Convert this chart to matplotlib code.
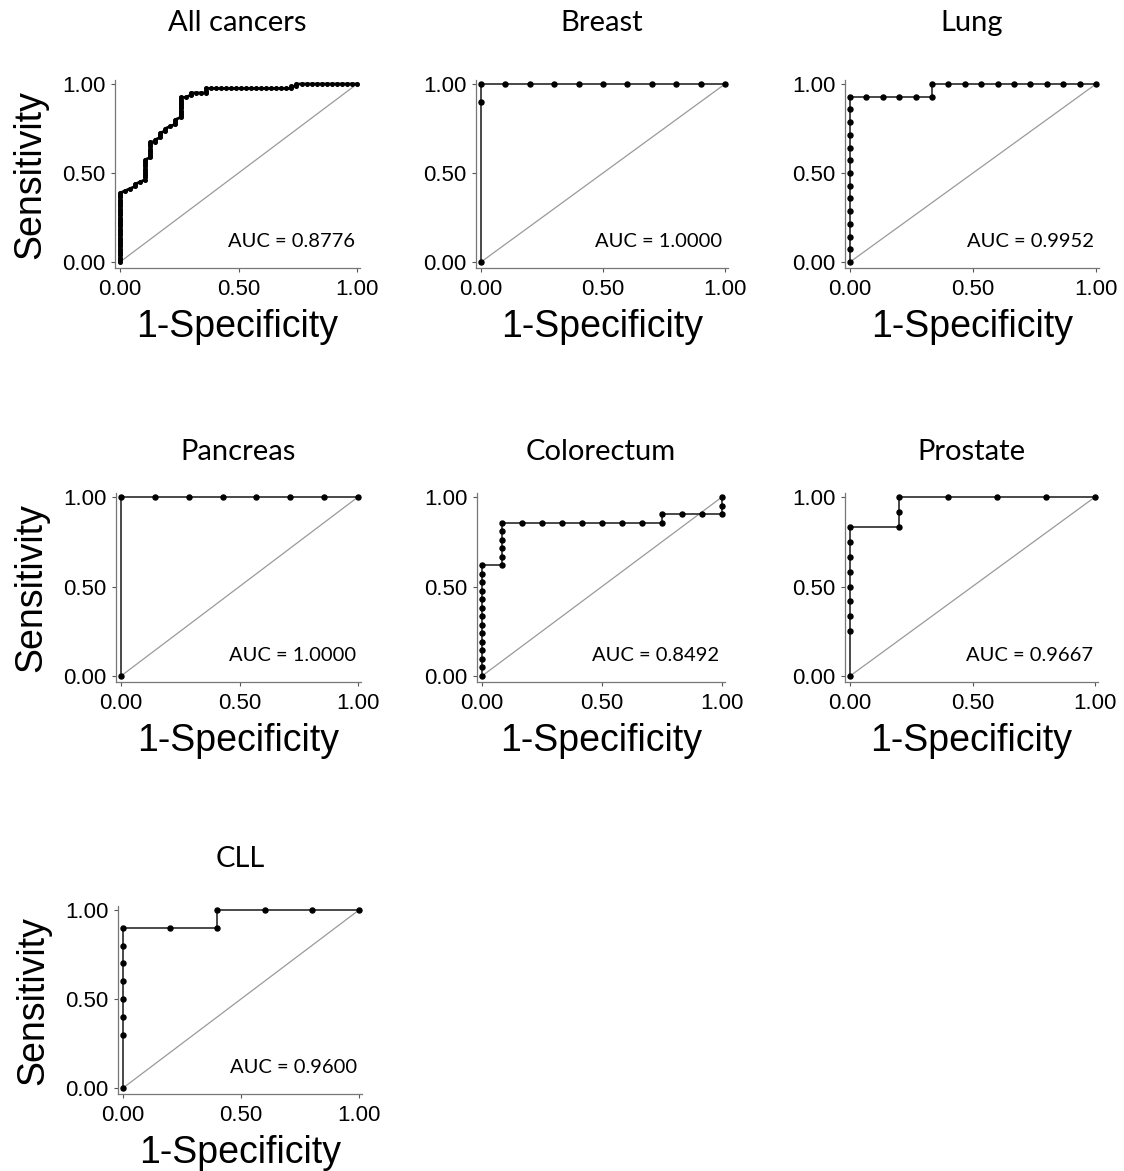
import matplotlib
matplotlib.use('Agg')
import matplotlib.pyplot as plt

ARIAL = ["Liberation Sans", "DejaVu Sans"]
CALIBRI = ["Lato", "DejaVu Sans"]
plt.rcParams['font.family'] = ARIAL

# ---------------- data ----------------
titles = ["All cancers", "Breast", "Lung", "Pancreas", "Colorectum", "Prostate", "CLL"]
auc_labels = ["AUC = 0.8776", "AUC = 1.0000", "AUC = 0.9952", "AUC = 1.0000",
              "AUC = 0.8492", "AUC = 0.9667", "AUC = 0.9600"]

# ROC points as (false-positive count, true-positive count) with totals
all_n_neg, all_n_pos = 47, 80
all_fp = [0, 0, 0, 0, 0, 0, 0, 0, 0, 0, 0, 0, 0, 0, 0, 0,
          0, 0, 0, 0, 0, 0, 0, 0, 0, 0, 0, 0, 0, 0, 0, 0,
          1, 2, 3, 3, 4, 5, 5, 5, 5, 5, 5, 5, 5, 5, 5,
          6, 6, 6, 6, 6, 6, 6, 6, 7, 7, 8, 8, 8, 9, 9, 10, 11, 11, 11,
          12, 12, 12, 12, 12, 12, 12, 12, 12, 12, 13, 14, 14, 15, 16,
          17, 17, 17, 18, 19, 20, 21, 22, 23, 24, 25, 26, 27, 28, 29, 30, 31, 32, 33,
          34, 34, 35, 35, 36, 37, 38, 39, 40, 41, 42, 43, 44, 45, 46, 47]
all_tp = [0, 1, 2, 3, 4, 5, 6, 7, 8, 9, 10, 11, 12, 13, 14, 15,
          16, 17, 18, 19, 20, 21, 22, 23, 24, 25, 26, 27, 28, 29, 30, 31,
          32, 33, 34, 35, 36, 37, 38, 39, 40, 41, 42, 43, 44, 45, 46,
          47, 48, 49, 50, 51, 52, 53, 54, 54, 55, 56, 57, 58, 59, 60, 61, 62, 63, 64,
          65, 66, 67, 68, 69, 70, 71, 72, 73, 74, 74, 75, 76, 76, 76,
          76, 77, 78, 78, 78, 78, 78, 78, 78, 78, 78, 78, 78, 78, 78, 78, 78, 78, 78,
          78, 79, 79, 80, 80, 80, 80, 80, 80, 80, 80, 80, 80, 80, 80, 80]

breast_n_neg, breast_n_pos = 10, 10
breast_fp = [0, 0, 0, 1, 2, 3, 4, 5, 6, 7, 8, 9, 10]
breast_tp = [0, 9, 10, 10, 10, 10, 10, 10, 10, 10, 10, 10, 10]

lung_n_neg, lung_n_pos = 15, 14
lung_fp = [0, 0, 0, 0, 0, 0, 0, 0, 0, 0, 0, 0, 0, 0,
           1, 2, 3, 4, 5, 5, 6, 7, 8, 9, 10, 11, 12, 13, 14, 15]
lung_tp = [0, 1, 2, 3, 4, 5, 6, 7, 8, 9, 10, 11, 12, 13,
           13, 13, 13, 13, 13, 14, 14, 14, 14, 14, 14, 14, 14, 14, 14, 14]

pancreas_n_neg, pancreas_n_pos = 7, 1
pancreas_fp = [0, 0, 1, 2, 3, 4, 5, 6, 7]
pancreas_tp = [0, 1, 1, 1, 1, 1, 1, 1, 1]

colo_n_neg, colo_n_pos = 12, 21
colo_fp = [0, 0, 0, 0, 0, 0, 0, 0, 0, 0, 0, 0, 0, 0,
           1, 1, 1, 1, 1, 1,
           2, 3, 4, 5, 6, 7, 8, 9,
           9, 10, 11, 12, 12, 12]
colo_tp = [0, 1, 2, 3, 4, 5, 6, 7, 8, 9, 10, 11, 12, 13,
           13, 14, 15, 16, 17, 18,
           18, 18, 18, 18, 18, 18, 18, 18,
           19, 19, 19, 19, 20, 21]

prost_n_neg, prost_n_pos = 5, 12
prost_fp = [0, 0, 0, 0, 0, 0, 0, 0, 0, 1, 1, 1, 2, 3, 4, 5]
prost_tp = [0, 3, 4, 5, 6, 7, 8, 9, 10, 10, 11, 12, 12, 12, 12, 12]

cll_n_neg, cll_n_pos = 5, 10
cll_fp = [0, 0, 0, 0, 0, 0, 0, 0, 1, 2, 2, 3, 4, 5]
cll_tp = [0, 3, 4, 5, 6, 7, 8, 9, 9, 9, 10, 10, 10, 10]

curves = [
    (all_fp, all_tp, all_n_neg, all_n_pos),
    (breast_fp, breast_tp, breast_n_neg, breast_n_pos),
    (lung_fp, lung_tp, lung_n_neg, lung_n_pos),
    (pancreas_fp, pancreas_tp, pancreas_n_neg, pancreas_n_pos),
    (colo_fp, colo_tp, colo_n_neg, colo_n_pos),
    (prost_fp, prost_tp, prost_n_neg, prost_n_pos),
    (cll_fp, cll_tp, cll_n_neg, cll_n_pos),
]

tick_vals = [0.0, 0.5, 1.0]
tick_labels = ["0.00", "0.50", "1.00"]

# ---------------- layout ----------------
W, H = 1124, 1171
fig = plt.figure(figsize=(W / 100, H / 100), dpi=100)

XMIN, XMAX = -0.022, 1.012
YMIN, YMAX = -0.035, 1.02

# pixel positions of data x=0 / x=1 and y=1 / y=0 for each panel
panel_px = [
    (120, 357, 84, 262),
    (481, 725, 84, 262),
    (850, 1096, 84, 262),
    (121, 358, 497, 676),
    (482, 722, 497, 676),
    (850, 1095, 497, 676),
    (123, 359, 910, 1088),
]
title_pads = [35.5, 35.5, 35.5, 24, 24, 24, 28.5]


def make_axes(px0, px1, py1, py0):
    sx = px1 - px0
    sy = py0 - py1
    left = px0 + XMIN * sx
    right = px0 + XMAX * sx
    bottom = py0 - YMIN * sy
    top = py0 - YMAX * sy
    return fig.add_axes([left / W, 1 - bottom / H, (right - left) / W, (bottom - top) / H])


for i, (title, auc, (fp, tp, nn, npos), px) in enumerate(zip(titles, auc_labels, curves, panel_px)):
    ax = make_axes(*px)
    fpr = [v / nn for v in fp]
    tpr = [v / npos for v in tp]

    ax.plot([0, 1], [0, 1], color="#9a9a9a", lw=0.9, zorder=1)
    if i == 0:
        ax.plot(fpr, tpr, color="black", lw=2.0, marker="o", ms=2.6,
                mfc="black", mec="black", zorder=3)
    else:
        ax.plot(fpr, tpr, color="#3a3a3a", lw=1.3, marker="o", ms=3.6,
                mfc="black", mec="black", zorder=3)

    ax.set_xlim(XMIN, XMAX)
    ax.set_ylim(YMIN, YMAX)
    ax.set_xticks(tick_vals)
    ax.set_xticklabels(tick_labels, family=ARIAL, fontsize=16)
    ax.set_yticks(tick_vals)
    ax.set_yticklabels(tick_labels, family=ARIAL, fontsize=16)
    ax.tick_params(direction="out", length=3, width=0.8, color="#555555")
    ax.tick_params(axis="x", pad=4.5)
    ax.tick_params(axis="y", pad=3.5)
    for s in ("top", "right"):
        ax.spines[s].set_visible(False)
    for s in ("left", "bottom"):
        ax.spines[s].set_color("#777777")
        ax.spines[s].set_linewidth(0.9)

    ax.set_title(title, family=CALIBRI, fontsize=21, pad=title_pads[i])
    ax.text(0.99, 0.085, auc, ha="right", va="baseline", family=CALIBRI, fontsize=14.5)
    ax.set_xlabel("1-Specificity", family=ARIAL, fontsize=27, labelpad=6.5)
    if i in (0, 3, 6):
        ax.set_ylabel("Sensitivity", family=ARIAL, fontsize=27, labelpad=10)

fig.savefig("out.png", dpi=100)
